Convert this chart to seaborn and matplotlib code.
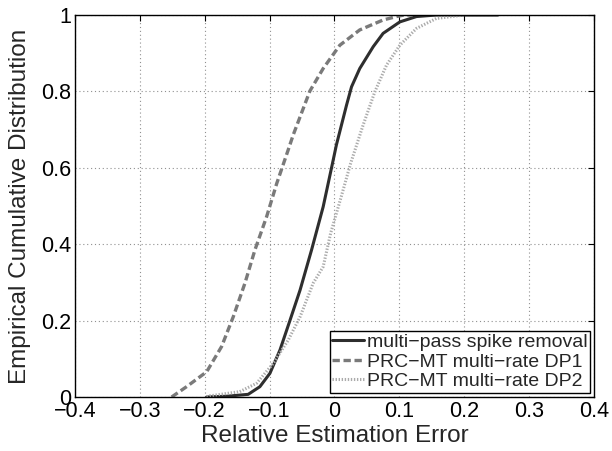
import matplotlib
matplotlib.use("Agg")
import matplotlib.pyplot as plt
import seaborn as sns
import pandas as pd

# Curve samples (x = relative error, y = cumulative fraction)
spike_x = [-0.197, -0.166, -0.133, -0.115, -0.0995, -0.084, -0.0687, -0.053, -0.0353, -0.0174,
           -0.003, 0.003, 0.0186, 0.0263, 0.039, 0.0597, 0.075, 0.1008, 0.1265, 0.157, 0.252]
spike_y = [0.0, 0.002, 0.007, 0.027, 0.062, 0.123, 0.2, 0.28, 0.385, 0.498,
           0.612, 0.660, 0.764, 0.812, 0.860, 0.917, 0.952, 0.982, 0.996, 1.0, 1.0]

dp1_x = [-0.251, -0.228, -0.197, -0.174, -0.156, -0.138, -0.1226, -0.1046, -0.089, -0.0713,
         -0.0636, -0.0379, -0.0174, 0.0083, 0.039, 0.075, 0.0957, 0.107, 0.12]
dp1_y = [0.0, 0.027, 0.066, 0.132, 0.21, 0.298, 0.385, 0.472, 0.559, 0.647,
         0.686, 0.801, 0.860, 0.921, 0.961, 0.987, 0.996, 1.0, 1.0]

dp2_x = [-0.197, -0.192, -0.146, -0.12, -0.0944, -0.0713, -0.053, -0.0328, -0.0174, -0.006,
         0.009, 0.025, 0.0442, 0.0622, 0.0803, 0.1008, 0.1265, 0.157, 0.2]
dp2_y = [0.0, 0.003, 0.014, 0.036, 0.088, 0.149, 0.21, 0.298, 0.341, 0.428,
         0.516, 0.612, 0.712, 0.799, 0.869, 0.921, 0.965, 0.991, 1.0]

labels = ["multi\u2212pass spike removal", "PRC\u2212MT multi\u2212rate DP1", "PRC\u2212MT multi\u2212rate DP2"]
xticks = [-0.4, -0.3, -0.2, -0.1, 0, 0.1, 0.2, 0.3, 0.4]
xtick_labels = ["\u22120.4", "\u22120.3", "\u22120.2", "\u22120.1", "0", "0.1", "0.2", "0.3", "0.4"]
yticks = [0, 0.2, 0.4, 0.6, 0.8, 1]
ytick_labels = ["0", "0.2", "0.4", "0.6", "0.8", "1"]

sns.set_style("white")
plt.rcParams['font.family'] = ['Liberation Sans', 'DejaVu Sans']

df = pd.concat([
    pd.DataFrame({"x": spike_x, "y": spike_y, "series": labels[0]}),
    pd.DataFrame({"x": dp1_x, "y": dp1_y, "series": labels[1]}),
    pd.DataFrame({"x": dp2_x, "y": dp2_y, "series": labels[2]}),
], ignore_index=True)

fig = plt.figure(figsize=(6.12, 4.51), dpi=100)
ax = fig.add_axes([0.1225, 0.1197, 0.848, 0.847])

styles = [
    dict(color="#2e2e2e", lw=2.2, ls="-"),
    dict(color="#7a7a7a", lw=2.4, ls=(0, (2.2, 1.1))),
    dict(color="#ababab", lw=2.2, ls=(0, (0.45, 0.55))),
]
for lab, st in zip(labels, styles):
    sub = df[df["series"] == lab]
    sns.lineplot(data=sub, x="x", y="y", ax=ax, estimator=None, sort=False,
                 color=st["color"], linewidth=st["lw"], linestyle=st["ls"], label=lab)

ax.set_xlim(-0.4, 0.4)
ax.set_ylim(0, 1)
ax.set_xticks(xticks)
ax.set_xticklabels(xtick_labels)
ax.set_yticks(yticks)
ax.set_yticklabels(ytick_labels)
ax.grid(True, color="#909090", linestyle=(0, (1, 2.5)), linewidth=0.8)
ax.tick_params(direction="in", length=4, width=0.8, top=True, right=True,
               labelsize=15.5, pad=3, colors="black")
for s in ax.spines.values():
    s.set_visible(True)
    s.set_color("black")
    s.set_linewidth(1.0)
ax.set_xlabel("Relative Estimation Error", fontsize=17.5, labelpad=2)
ax.set_ylabel("Empirical Cumulative Distribution", fontsize=17.5, labelpad=7)

leg = ax.legend(loc="lower right", fontsize=14, frameon=True, fancybox=False,
                edgecolor="black", framealpha=1, handlelength=1.6, handletextpad=0.15,
                labelspacing=0.1, borderpad=0.15, borderaxespad=0.2)
leg.get_frame().set_linewidth(1.0)

fig.savefig("out.png", dpi=100)
